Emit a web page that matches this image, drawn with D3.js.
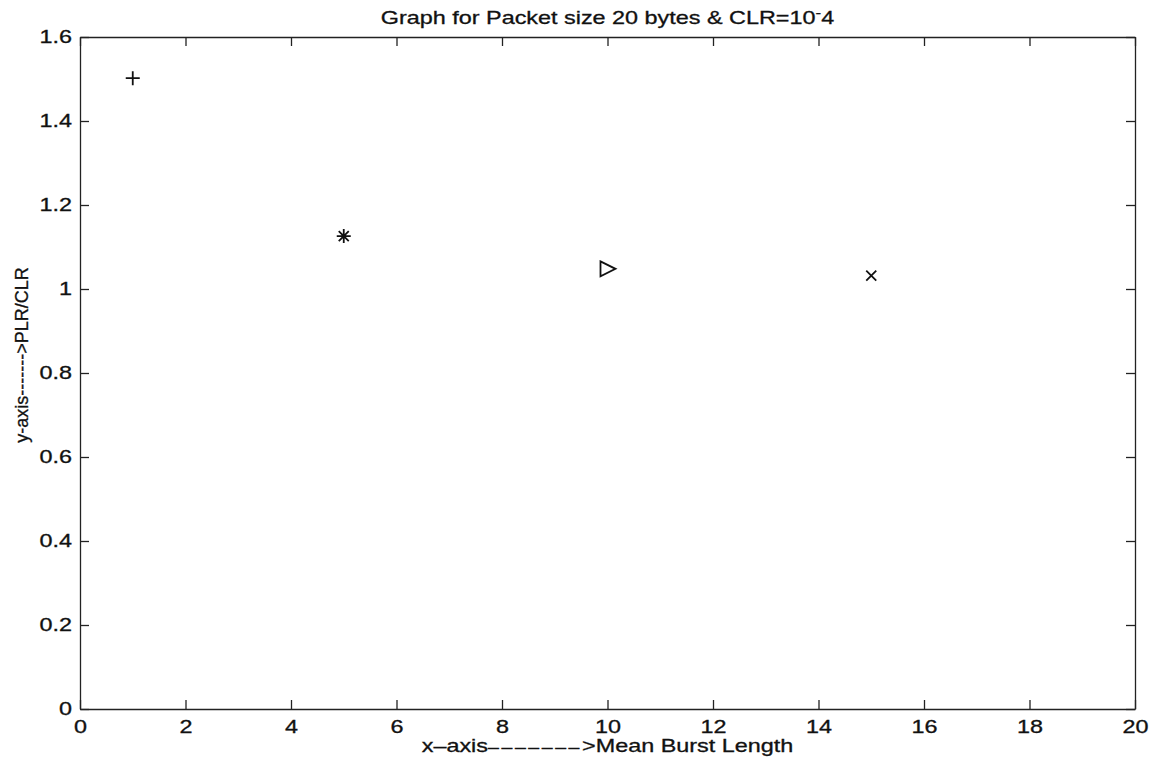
<!DOCTYPE html>
<html lang="en">
<head>
    <meta charset="UTF-8">
    <script src="https://d3js.org/d3.v7.min.js"></script>
    <title>Graph for Packet size 20 bytes</title>
    <style>
        body { margin: 0; background: #fff; }
        svg text { font-family: "Liberation Sans", Arial, sans-serif; fill: #111; stroke: #111; stroke-width: 0.3px; }
        .axis path, .axis line { stroke: #222; stroke-width: 1.3px; }
    </style>
</head>
<body>
    <div id="chart"></div>
    <script>
        // data
        const burstLength = [1, 5, 10, 15];
        const plrRatio = [1.502, 1.126, 1.048, 1.032];
        const markerType = ["plus", "star", "triangle", "cross"];
        const xTicks = [0, 2, 4, 6, 8, 10, 12, 14, 16, 18, 20];
        const yTicks = [0, 0.2, 0.4, 0.6, 0.8, 1, 1.2, 1.4, 1.6];

        const width = 1155, height = 765;
        const margin = { top: 37, right: 20, bottom: 56, left: 80 };
        const stretch = 1.3;   // the scanned text is wider than it is tall
        const fontSize = 18;

        const svg = d3.select("#chart").append("svg")
            .attr("width", width)
            .attr("height", height);

        const x = d3.scaleLinear().domain([0, 20]).range([margin.left, width - margin.right]);
        const y = d3.scaleLinear().domain([0, 1.6]).range([height - margin.bottom, margin.top]);

        const fmt = d => String(+d.toFixed(1));

        // bottom axis with labels
        const gx = svg.append("g").attr("class", "axis")
            .attr("transform", `translate(0,${y(0)})`)
            .call(d3.axisBottom(x).tickValues(xTicks).tickFormat(fmt)
                .tickSizeInner(-9).tickSizeOuter(0).tickPadding(11));
        // left axis with labels
        const gy = svg.append("g").attr("class", "axis")
            .attr("transform", `translate(${x(0)},0)`)
            .call(d3.axisLeft(y).tickValues(yTicks).tickFormat(fmt)
                .tickSizeInner(-9).tickSizeOuter(0).tickPadding(8));
        // top and right frame with mirrored ticks
        svg.append("g").attr("class", "axis")
            .attr("transform", `translate(0,${y(1.6)})`)
            .call(d3.axisTop(x).tickValues(xTicks).tickFormat("")
                .tickSizeInner(-9).tickSizeOuter(0));
        svg.append("g").attr("class", "axis")
            .attr("transform", `translate(${x(20)},0)`)
            .call(d3.axisRight(y).tickValues(yTicks).tickFormat("")
                .tickSizeInner(-9).tickSizeOuter(0));

        svg.selectAll(".axis text")
            .style("font-size", fontSize + "px")
            .attr("fill", "#111");
        gx.selectAll("text").attr("transform", `scale(${stretch},1)`);
        gy.selectAll("text")
            .attr("x", -8 / stretch)
            .attr("transform", `scale(${stretch},1)`);

        // markers
        const s = 7;
        const markerPath = {
            plus: `M${-s},0H${s}M0,${-s}V${s}`,
            star: `M${-s},0H${s}M0,${-s}V${s}M${-5},${-5}L5,5M${-5},5L5,${-5}`,
            triangle: `M${-7},${-7.5}L8,0L${-7},7.5Z`,
            cross: `M-5,-5L5,5M-5,5L5,-5`
        };
        svg.selectAll(".pt")
            .data(burstLength)
            .join("path")
            .attr("class", "pt")
            .attr("transform", (d, i) => `translate(${x(d)},${y(plrRatio[i])})`)
            .attr("d", (d, i) => markerPath[markerType[i]])
            .attr("fill", "none")
            .attr("stroke", "#111")
            .attr("stroke-width", 1.8);

        // title with raised minus sign
        const cx = (x(0) + x(20)) / 2;
        const title = svg.append("text")
            .attr("x", cx / stretch)
            .attr("y", 24)
            .attr("text-anchor", "middle")
            .attr("transform", `scale(${stretch},1)`)
            .style("font-size", fontSize + "px");
        title.append("tspan").text("Graph for Packet size 20 bytes & CLR=10");
        title.append("tspan").attr("dy", -7).style("font-size", "13px").text("-");
        title.append("tspan").attr("dy", 7).text("4");

        const xlab = svg.append("text")
            .attr("x", cx / stretch)
            .attr("y", 752)
            .attr("text-anchor", "middle")
            .attr("transform", `scale(${stretch},1)`)
            .style("font-size", fontSize + "px");
        xlab.append("tspan").text("x\u2013axis");
        xlab.append("tspan")
            .style("font-size", "15px")
            .style("letter-spacing", "2px")
            .text("\u2013\u2013\u2013\u2013\u2013\u2013\u2013");
        xlab.append("tspan").text(">Mean Burst Length");

        svg.append("text")
            .attr("transform", `translate(28,355) rotate(-90)`)
            .attr("text-anchor", "middle")
            .style("font-size", fontSize + "px")
            .text("y-axis------->PLR/CLR");
    </script>
</body>
</html>
